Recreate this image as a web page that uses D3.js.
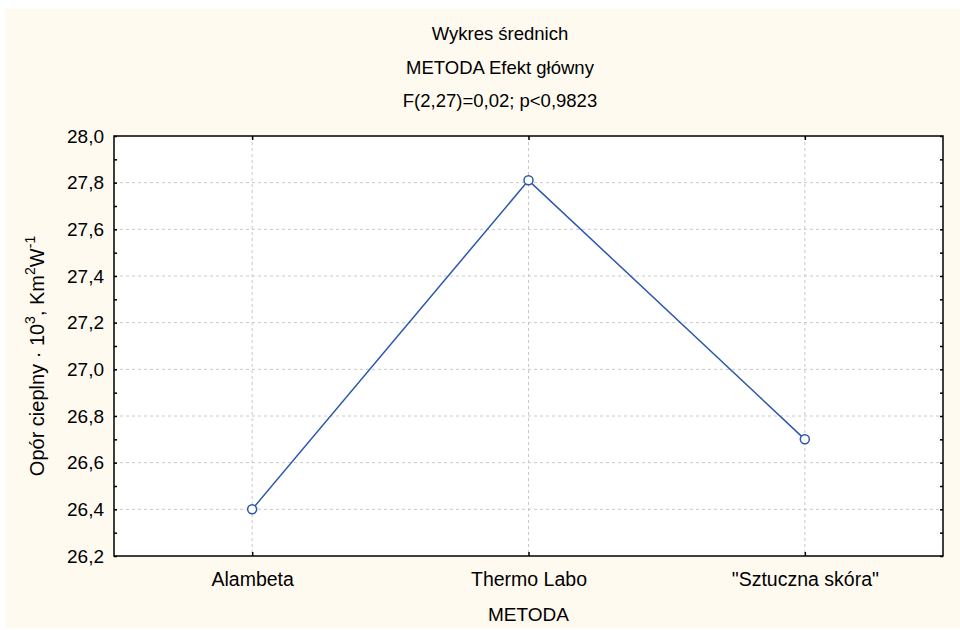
<!DOCTYPE html>
<html><head><meta charset="utf-8">
<script src="https://cdn.jsdelivr.net/npm/d3@7"></script>
<style>body{margin:0;background:#fff}svg{display:block}text{font-family:"Liberation Sans",Arial,sans-serif;fill:#000}</style>
</head><body><svg id="c" width="960" height="630"></svg>
<script>
const categories = ["Alambeta", "Thermo Labo", "\"Sztuczna skóra\""];
const means = [26.40, 27.81, 26.70];
const yTicks = [26.2, 26.4, 26.6, 26.8, 27.0, 27.2, 27.4, 27.6, 27.8, 28.0];
const yMinor = [26.3, 26.5, 26.7, 26.9, 27.1, 27.3, 27.5, 27.7, 27.9];
const titles = ["Wykres średnich", "METODA Efekt główny", "F(2,27)=0,02; p<0,9823"];
const xTitle = "METODA";

const svg = d3.select("#c");
const L = 114, R = 943, T = 136, B = 556;
svg.append("rect").attr("x",5).attr("y",9).attr("width",955).attr("height",619).attr("fill","#fffaf0");
svg.append("rect").attr("x",L).attr("y",T).attr("width",R-L).attr("height",B-T).attr("fill","#fff");

const x = d3.scalePoint().domain(categories).range([L, R]).padding(0.5);
const y = d3.scaleLinear().domain([26.2, 28.0]).range([B, T]);
const fmt = d => d3.format(".1f")(d).replace(".", ",");

// grid
const g = svg.append("g").attr("stroke","#c8c8c8").attr("stroke-dasharray","3,3").attr("stroke-width",1);
yTicks.filter(v => v > 26.2 && v < 28.0).forEach(v => {
  g.append("line").attr("x1",L).attr("x2",R).attr("y1",y(v)).attr("y2",y(v));
});
categories.forEach(c => {
  g.append("line").attr("x1",x(c)).attr("x2",x(c)).attr("y1",T).attr("y2",B);
});

// axes
const yl = svg.append("g").attr("transform",`translate(${L},0)`)
  .call(d3.axisLeft(y).tickValues(yTicks).tickFormat(fmt).tickSizeInner(-3).tickSizeOuter(0).tickPadding(10));
yl.select(".domain").remove();
yl.selectAll("text").style("font-size","19px").attr("font-family",null);
yl.selectAll("line").attr("stroke","#000").attr("stroke-width",1.5);
svg.append("g").attr("transform",`translate(${L},0)`)
  .call(d3.axisLeft(y).tickValues(yMinor).tickFormat("").tickSizeInner(-3).tickSizeOuter(0))
  .call(s => { s.select(".domain").remove(); s.selectAll("line").attr("stroke","#000").attr("stroke-width",1.5); });
svg.append("g").attr("transform",`translate(${R},0)`)
  .call(d3.axisRight(y).tickValues(yTicks.concat(yMinor)).tickFormat("").tickSizeInner(-3).tickSizeOuter(0))
  .call(s => { s.select(".domain").remove(); s.selectAll("line").attr("stroke","#000").attr("stroke-width",1.5); });
const xb = svg.append("g").attr("transform",`translate(0,${B})`)
  .call(d3.axisBottom(x).tickSizeInner(-4).tickSizeOuter(0).tickPadding(16));
xb.select(".domain").remove();
xb.selectAll("text").style("font-size","19.5px").attr("font-family",null);
xb.selectAll("line").attr("stroke","#000").attr("stroke-width",1.5);
svg.append("g").attr("transform",`translate(0,${T})`)
  .call(d3.axisTop(x).tickFormat("").tickSizeInner(-4).tickSizeOuter(0))
  .call(s => { s.select(".domain").remove(); s.selectAll("line").attr("stroke","#000").attr("stroke-width",1.5); });

svg.append("rect").attr("x",L).attr("y",T).attr("width",R-L).attr("height",B-T)
  .attr("fill","none").attr("stroke","#000").attr("stroke-width",1.5);

// line
const pts = categories.map((c,i) => [x(c), y(means[i])]);
svg.append("path").attr("d", d3.line()(pts)).attr("fill","none").attr("stroke","#2b57ad").attr("stroke-width",1.5);
svg.selectAll("circle.m").data(pts).join("circle").attr("class","m")
  .attr("cx",d=>d[0]).attr("cy",d=>d[1]).attr("r",4.5)
  .attr("fill","#fff").attr("stroke","#2b57ad").attr("stroke-width",1.5);

// titles
titles.forEach((t,i) => {
  svg.append("text").attr("x",500).attr("y",40 + i*33.5).attr("text-anchor","middle")
    .style("font-size","18.5px").text(t);
});
svg.append("text").attr("x",(L+R)/2).attr("y",621).attr("text-anchor","middle").style("font-size","19px").text(xTitle);

// y title
const yt = svg.append("text").attr("transform",`translate(44,356) rotate(-90)`)
  .attr("text-anchor","middle").style("font-size","20px");
yt.append("tspan").text("Opór cieplny · 10");
yt.append("tspan").attr("dy",-9).style("font-size","14px").text("3");
yt.append("tspan").attr("dy",9).text(", Km");
yt.append("tspan").attr("dy",-9).style("font-size","14px").text("2");
yt.append("tspan").attr("dy",9).text("W");
yt.append("tspan").attr("dy",-9).style("font-size","14px").text("-1");
</script></body></html>
